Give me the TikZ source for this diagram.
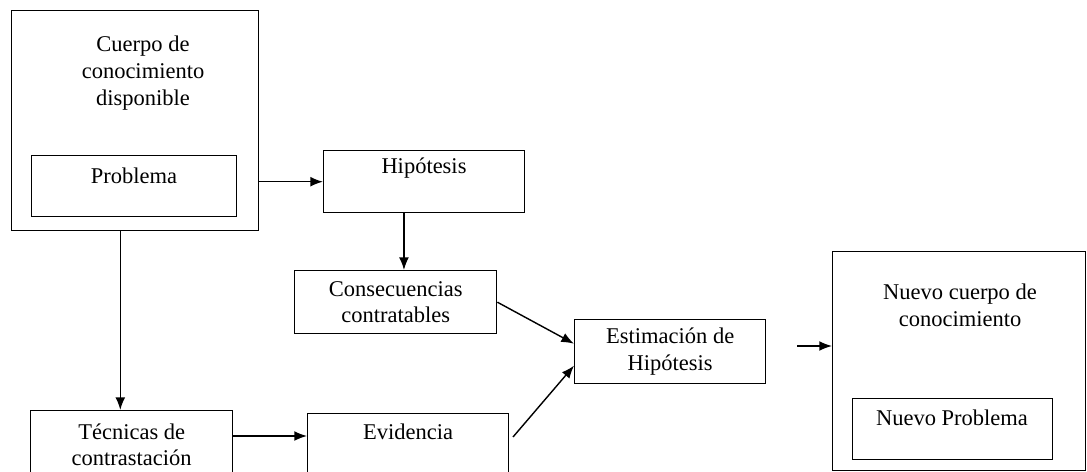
\documentclass[tikz,border=0pt]{standalone}
\usepackage{fontspec}
\setmainfont{Liberation Serif}
\usetikzlibrary{arrows.meta,calc}
\tikzset{
  box/.style={draw,line width=1pt,inner sep=0pt,anchor=north west},
  dim/.style 2 args={minimum width=#1*0.025cm,minimum height=#2*0.025cm},
  txt/.style={align=center,font=\fontsize{16}{19}\selectfont},
  arr/.style={line width=1pt,-{Latex[length=9pt,width=7pt]}}
}
\begin{document}
\begin{tikzpicture}[x=0.025cm,y=-0.025cm]
  \useasboundingbox (0,0) rectangle (1087,472);
  \clip (0,0) rectangle (1087,472);
  % cajas
  \node[box,dim={247}{220}] (cuerpo) at (11,10) {};
  \node[box,dim={205}{61}] (prob) at (31,155) {};
  \node[box,dim={201}{62}] (hip) at (323,150) {};
  \node[box,dim={202}{63},txt] (cons) at (294,270) {Consecuencias\\contratables};
  \node[box,dim={191}{64},txt] (est) at (574,319) {Estimación de\\Hipótesis};
  \node[box,dim={202}{68},txt] (tec) at (30,410) {Técnicas de\\contrastación};
  \node[box,dim={201}{67}] (evid) at (307,413) {};
  \node[box,dim={253}{219}] (nuevo) at (832,251) {};
  \node[box,dim={200}{61}] (nprob) at (852,398) {};
  % textos
  \node[txt] (tcuerpo) at (143,73) {Cuerpo de\\conocimiento\\disponible};
  \node[txt] (tprob) at (134,176) {Problema};
  \node[txt] (thip) at (424,168) {Hipótesis};
  \node[txt] (tevid) at (408,432) {Evidencia};
  \node[txt] (tnuevo) at (960,305) {Nuevo cuerpo de\\conocimiento};
  \node[txt] (tnprob) at (952,418) {Nuevo Problema};
  % flechas
  \coordinate (evout) at (513,437);
  \coordinate (estout) at (797,346);
  \draw[arr] (cuerpo.east |- hip.west) -- (hip.west);
  \draw[arr] ($(hip.south west)!0.4!(hip.south east)$) coordinate (hs) -- (hs |- cons.north);
  \draw[arr] ($(cuerpo.south west)!0.44!(cuerpo.south east)$) coordinate (cs) -- (cs |- tec.north);
  \draw[arr] ([yshift=-0.65cm]tec.north east) coordinate (ts) -- (ts -| evid.west);
  \draw[arr] (cons.east) -- ([yshift=0.2cm]est.west);
  \draw[arr] (evout) -- ([yshift=-0.35cm]est.west);
  \draw[arr] (estout) -- (estout -| nuevo.west);
\end{tikzpicture}
\end{document}
